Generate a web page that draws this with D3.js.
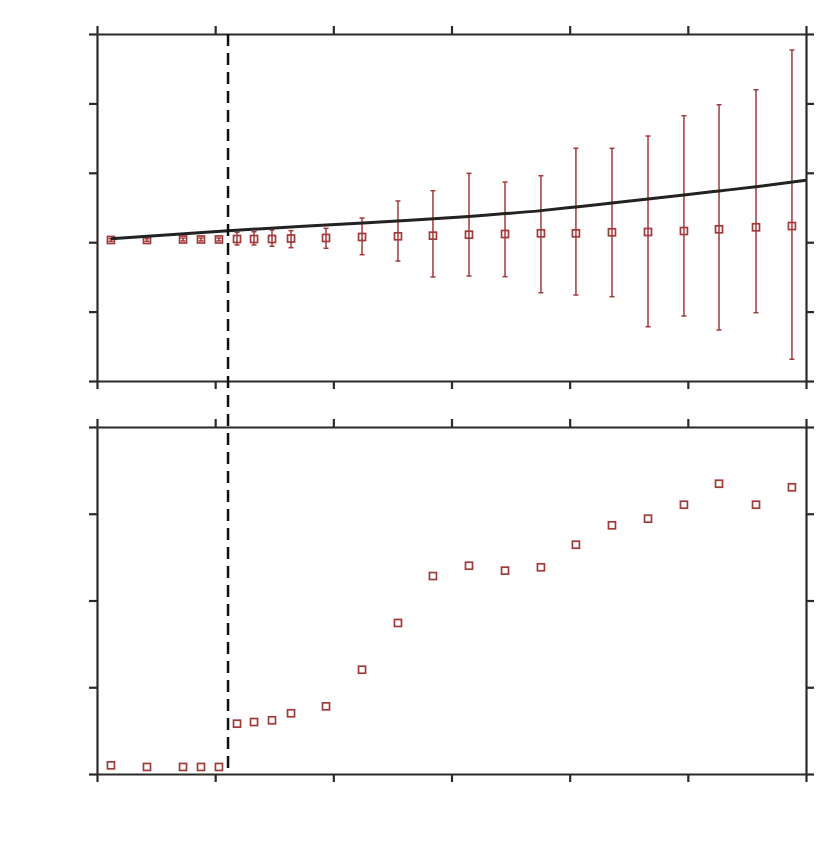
<!DOCTYPE html>
<html>
<head>
<meta charset="utf-8">
<script src="https://cdn.jsdelivr.net/npm/d3@7"></script>
<style>
  html, body { margin: 0; padding: 0; background: #fff; }
  svg { display: block; }
</style>
</head>
<body>
<svg id="chart" width="831" height="851"></svg>
<script>
// ---- data ----
const xValues = [0.118,0.423,0.728,0.880,1.032,1.185,1.329,1.481,1.642,1.938,2.243,2.547,2.843,3.148,3.453,3.757,4.053,4.358,4.663,4.967,5.264,5.577,5.881];
const topValues = [2.032,2.032,2.039,2.039,2.039,2.046,2.046,2.046,2.053,2.061,2.075,2.085,2.094,2.108,2.118,2.128,2.128,2.143,2.147,2.161,2.186,2.215,2.233];
const topUpper = [2.052,2.052,2.059,2.059,2.059,2.143,2.151,2.176,2.166,2.200,2.349,2.594,2.742,2.993,2.867,2.958,3.353,3.353,3.530,3.823,3.981,4.197,4.769];
const topLower = [2.012,2.012,2.019,2.019,2.019,1.960,1.960,1.941,1.921,1.912,1.820,1.729,1.499,1.513,1.503,1.272,1.239,1.215,0.782,0.937,0.735,0.984,0.313];
const curveX = [0.118,1.109,2.057,2.649,3.148,3.757,4.053,4.358,4.663,4.967,5.264,5.577,6.0];
const curveY = [2.050,2.166,2.258,2.315,2.372,2.455,2.508,2.565,2.622,2.680,2.738,2.800,2.892];
const bottomValues = [0.100,0.081,0.081,0.081,0.081,0.580,0.599,0.619,0.700,0.780,1.202,1.741,2.282,2.401,2.344,2.383,2.643,2.867,2.943,3.104,3.346,3.104,3.305];
const thresholdX = 1.109;
const xTicks = [0,1,2,3,4,5,6];
const topYTicks = [0,1,2,3,4,5];
const bottomYTicks = [0,1,2,3,4];

// ---- layout ----
const svg = d3.select('#chart');
const left = 97, right = 806;
const topPanel = {y0: 34, y1: 381};
const botPanel = {y0: 427, y1: 774};
const markColor = '#a33a3a';
const axisColor = '#2a2a2a';

const x = d3.scaleLinear().domain([0, 6]).range([left, right]);
const yTop = d3.scaleLinear().domain([0, 5]).range([topPanel.y1, topPanel.y0]);
const yBot = d3.scaleLinear().domain([0, 4]).range([botPanel.y1, botPanel.y0]);

function drawFrame(y, ticks, panel) {
  const g = svg.append('g');
  const ax = [
    {a: d3.axisBottom(x).tickValues(xTicks), t: `translate(0,${panel.y1})`},
    {a: d3.axisTop(x).tickValues(xTicks), t: `translate(0,${panel.y0})`},
    {a: d3.axisLeft(y).tickValues(ticks), t: `translate(${left},0)`},
    {a: d3.axisRight(y).tickValues(ticks), t: `translate(${right},0)`}
  ];
  ax.forEach(o => {
    const s = g.append('g').attr('transform', o.t)
      .call(o.a.tickSize(8).tickSizeOuter(0).tickFormat(''));
    s.select('.domain').attr('stroke', axisColor).attr('stroke-width', 2.2);
    s.selectAll('.tick line').attr('stroke', axisColor).attr('stroke-width', 2.2);
  });
}

drawFrame(yTop, topYTicks, topPanel);
drawFrame(yBot, bottomYTicks, botPanel);

// error bars (top)
const eb = svg.append('g').attr('stroke', markColor).attr('stroke-width', 1.5).attr('fill', 'none');
xValues.forEach((xv, i) => {
  const cx = x(xv);
  eb.append('line').attr('x1', cx).attr('x2', cx).attr('y1', yTop(topUpper[i])).attr('y2', yTop(topLower[i]));
  eb.append('line').attr('x1', cx - 2.5).attr('x2', cx + 2.5).attr('y1', yTop(topUpper[i])).attr('y2', yTop(topUpper[i]));
  eb.append('line').attr('x1', cx - 2.5).attr('x2', cx + 2.5).attr('y1', yTop(topLower[i])).attr('y2', yTop(topLower[i]));
});

// markers
const sz = 7;
svg.append('g').selectAll('rect.t').data(xValues).join('rect')
  .attr('x', (d) => x(d) - sz / 2)
  .attr('y', (d, i) => yTop(topValues[i]) - sz / 2)
  .attr('width', sz).attr('height', sz)
  .attr('fill', 'none').attr('stroke', markColor).attr('stroke-width', 1.7);

svg.append('g').selectAll('rect.b').data(xValues).join('rect')
  .attr('x', (d) => x(d) - sz / 2)
  .attr('y', (d, i) => yBot(bottomValues[i]) - sz / 2)
  .attr('width', sz).attr('height', sz)
  .attr('fill', 'none').attr('stroke', markColor).attr('stroke-width', 1.7);

// model curve
const line = d3.line().x(d => x(d[0])).y(d => yTop(d[1])).curve(d3.curveMonotoneX);
svg.append('path')
  .datum(curveX.map((v, i) => [v, curveY[i]]))
  .attr('d', line)
  .attr('fill', 'none').attr('stroke', '#222').attr('stroke-width', 3);

// threshold dashed line
svg.append('line')
  .attr('x1', x(thresholdX)).attr('x2', x(thresholdX))
  .attr('y1', yTop(5)).attr('y2', yBot(0))
  .attr('stroke', '#111').attr('stroke-width', 2.5)
  .attr('stroke-dasharray', '12,7');
</script>
</body>
</html>
